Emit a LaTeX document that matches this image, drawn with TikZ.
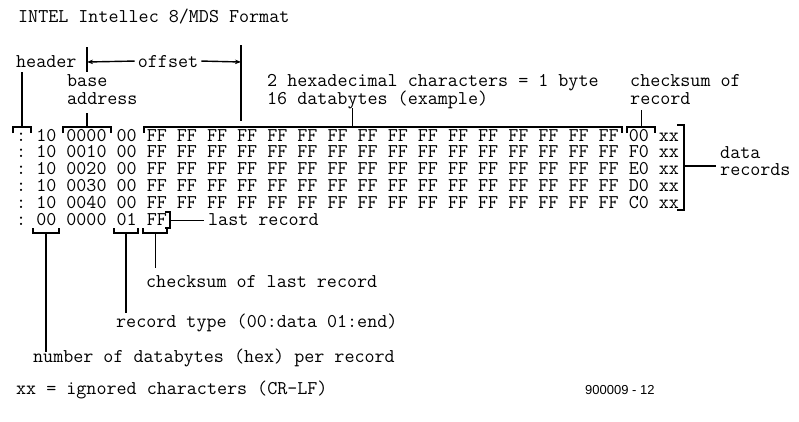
\documentclass[tikz,border=0pt]{standalone}
\usepackage{fontspec}
\setmainfont{Liberation Serif}
\newfontfamily\typefont{Latin Modern Mono}[WordSpace={1,0,0},PunctuationSpace=WordSpace]
\newfontfamily\labelfont{Liberation Sans}
\usetikzlibrary{arrows.meta}

\begin{document}
\begin{tikzpicture}[x=1pt,y=-1pt,
  tt/.style={anchor=base west,inner sep=0pt,
    font=\typefont\fontsize{19.5}{22}\selectfont\frenchspacing},
  ln/.style={line width=1.4pt,line cap=butt,line join=miter},
  lnthin/.style={line width=0.9pt,line cap=butt},
  arr/.style={ln,-{Stealth[length=6pt,width=4.5pt]}}
]
\useasboundingbox (0,0) rectangle (799,421);

% ---- headings ----
\node[tt] (title) at (18,22) {INTEL Intellec 8/MDS Format};
\node[tt] (hdr)   at (16,67) {header};
\node[tt,anchor=base] (offs) at (168,67) {offset};
\node[tt] (base)  at (67,86)  {base};
\node[tt] (addr)  at (67,104) {address};
\node[tt] (hexA)  at (267,86)  {2 hexadecimal characters = 1 byte};
\node[tt] (hexB)  at (267,104) {16 databytes (example)};
\node[tt] (csA)   at (630,86)  {checksum of};
\node[tt] (csB)   at (630,104) {record};

% ---- records ----
\node[tt] (r1) at (16,141.0) {: 10 0000 00 FF FF FF FF FF FF FF FF FF FF FF FF FF FF FF FF 00 xx};
\node[tt] (r2) at (16,157.8) {: 10 0010 00 FF FF FF FF FF FF FF FF FF FF FF FF FF FF FF FF F0 xx};
\node[tt] (r3) at (16,174.6) {: 10 0020 00 FF FF FF FF FF FF FF FF FF FF FF FF FF FF FF FF E0 xx};
\node[tt] (r4) at (16,191.4) {: 10 0030 00 FF FF FF FF FF FF FF FF FF FF FF FF FF FF FF FF D0 xx};
\node[tt] (r5) at (16,208.2) {: 10 0040 00 FF FF FF FF FF FF FF FF FF FF FF FF FF FF FF FF C0 xx};
\node[tt] (r6) at (16,225.0) {: 00 0000 01 FF};

\node[tt] (data) at (720,158) {data};
\node[tt] (recs) at (720,175) {records};
\node[tt] (last) at (208,225) {last record};

% ---- lower labels ----
\node[tt] (cslast) at (146,287) {checksum of last record};
\node[tt] (rtype)  at (116,327) {record type (00:data 01:end)};
\node[tt] (nbytes) at (33,362)  {number of databytes (hex) per record};
\node[tt] (note)   at (16,394)  {xx = ignored characters (CR-LF)};
\node[anchor=base west,inner sep=0pt,font=\labelfont\fontsize{13}{15}\selectfont]
  (fig) at (585,394) {900009 - 12};

% ---- offset dimension ----
\coordinate (offL) at (87,62);
\coordinate (offR) at (241,62);
\draw[ln] (87,47) -- (87,72);
\draw[ln] (241,45) -- (241,121);
\draw[arr] ([xshift=-3pt]offs.west) -- (offL);
\draw[arr] ([xshift=3pt]offs.east) -- (offR);

% ---- brackets above the first record ----
\coordinate (bH) at (22,127);
\coordinate (bA) at (87,127);
\coordinate (bD) at (352,127);
\coordinate (bC) at (641,127);
\draw[ln] (13,133) -- (13,127) -- (31,127) -- (31,133);
\draw[ln] (63,133) -- (63,127) -- (111,127) -- (111,133);
\draw[ln] (144,133) -- (144,127) -- (622,127) -- (622,133);
\draw[ln] (627,133) -- (627,127) -- (655,127) -- (655,133);
\draw[ln] (bH) -- (22,72);
\draw[ln] (bA) -- (87,113);
\draw[lnthin] (bD) -- (352,108);
\draw[lnthin] (bC) -- (641,110);

% ---- data records bracket ----
\coordinate (bR) at (684,166);
\coordinate (bRend) at (716,166);
\draw[ln] (677,125) -- (684,125) -- (684,210) -- (677,210);
\draw[ln] (bR) -- (bRend);

% ---- last record ----
\coordinate (bL) at (170,220);
\coordinate (bLend) at (204,220);
\draw[ln] (165,212) -- (170,212) -- (170,228) -- (165,228);
\draw[lnthin] (bL) -- (bLend);

% ---- brackets below the end record ----
\coordinate (bN) at (46,233);
\coordinate (bT) at (126,233);
\coordinate (bS) at (155,233);
\draw[ln] (33,228) -- (33,233) -- (59,233) -- (59,228);
\draw[ln] (114,228) -- (114,233) -- (138,233) -- (138,228);
\draw[ln] (143,228) -- (143,233) -- (167,233) -- (167,228);
\draw[ln] (bN) -- (46,352);
\draw[ln] (bT) -- (126,313);
\draw[lnthin] (bS) -- (155,268);
\end{tikzpicture}
\end{document}
